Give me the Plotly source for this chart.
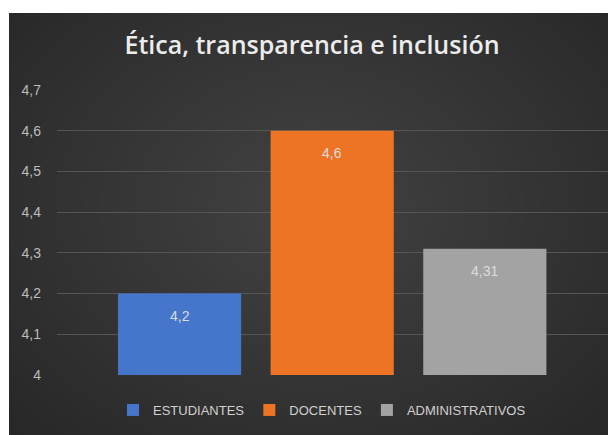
import plotly.graph_objects as go

categories = ["ESTUDIANTES", "DOCENTES", "ADMINISTRATIVOS"]
values = [4.2, 4.6, 4.31]
value_labels = ["4,2", "4,6", "4,31"]
colors = ["#4676cc", "#ec7424", "#a3a3a3"]
tick_vals = [4.0, 4.1, 4.2, 4.3, 4.4, 4.5, 4.6, 4.7]
tick_text = ["4", "4,1", "4,2", "4,3", "4,4", "4,5", "4,6", "4,7"]
title_text = "Ética, transparencia e inclusión"

W, H = 608, 427
L, R, T, B = 49, 8, 82, 60
pw, ph = W - L - R, H - T - B

def px_x(x):
    return (x - L) / pw

def px_y(y):
    return (H - B - y) / ph

fig = go.Figure()
for c, v, col in zip(categories, values, colors):
    fig.add_trace(go.Bar(
        x=[c], y=[v], name=c, width=0.807, marker=dict(color=col, line=dict(width=0)),
        hoverinfo="skip",
    ))

annotations = []
for c, v, lab in zip(categories, values, value_labels):
    annotations.append(dict(x=c, y=v, xref="x", yref="y", text=lab, showarrow=False,
                            yanchor="middle", yshift=-22,
                            font=dict(color="#dcdcdc", size=14, family="Liberation Sans, sans-serif")))

shapes = [dict(type="rect", xref="paper", yref="paper",
               x0=px_x(1), x1=px_x(W + 5), y0=px_y(H + 5), y1=px_y(5),
               fillcolor="#262626", line=dict(width=0), layer="below")]
cx, cy = 304, 200
n = 26
for i in range(n):
    rx = 430 - i * 15.5
    ry = 330 - i * 11.5
    shapes.append(dict(type="circle", xref="paper", yref="paper",
                       x0=px_x(cx - rx), x1=px_x(cx + rx),
                       y0=px_y(cy + ry), y1=px_y(cy - ry),
                       fillcolor="rgba(255,255,255,0.0078)", line=dict(width=0), layer="below"))

fig.update_layout(
    width=W, height=H,
    margin=dict(l=L, r=R, t=T, b=B),
    paper_bgcolor="white", plot_bgcolor="rgba(0,0,0,0)",
    barmode="overlay",
    shapes=shapes, annotations=annotations,
    title=dict(text=title_text, x=304 / W, xref="container", xanchor="center", y=1 - 37 / H, yanchor="middle",
               font=dict(family="Open Sans, sans-serif", size=25, color="#ececec", weight=600)),
    showlegend=True,
    legend=dict(orientation="h", x=px_x(314), xanchor="center", y=px_y(402), yanchor="middle",
                font=dict(family="Liberation Sans, sans-serif", size=13, color="#d0d0d0"),
                itemwidth=30, traceorder="normal", bgcolor="rgba(0,0,0,0)"),
    xaxis=dict(range=[-0.803, 2.807], showticklabels=False, showgrid=False, zeroline=False, showline=False, ticks=""),
    yaxis=dict(range=[4.0, 4.7], tickvals=tick_vals, ticktext=tick_text,
               showgrid=True, gridcolor="#555555", gridwidth=1, zeroline=False, showline=False,
               ticks="", ticklabelstandoff=15,
               tickfont=dict(family="Liberation Sans, sans-serif", size=14, color="#bcbcbc")),
)

fig.write_html("out.html")
